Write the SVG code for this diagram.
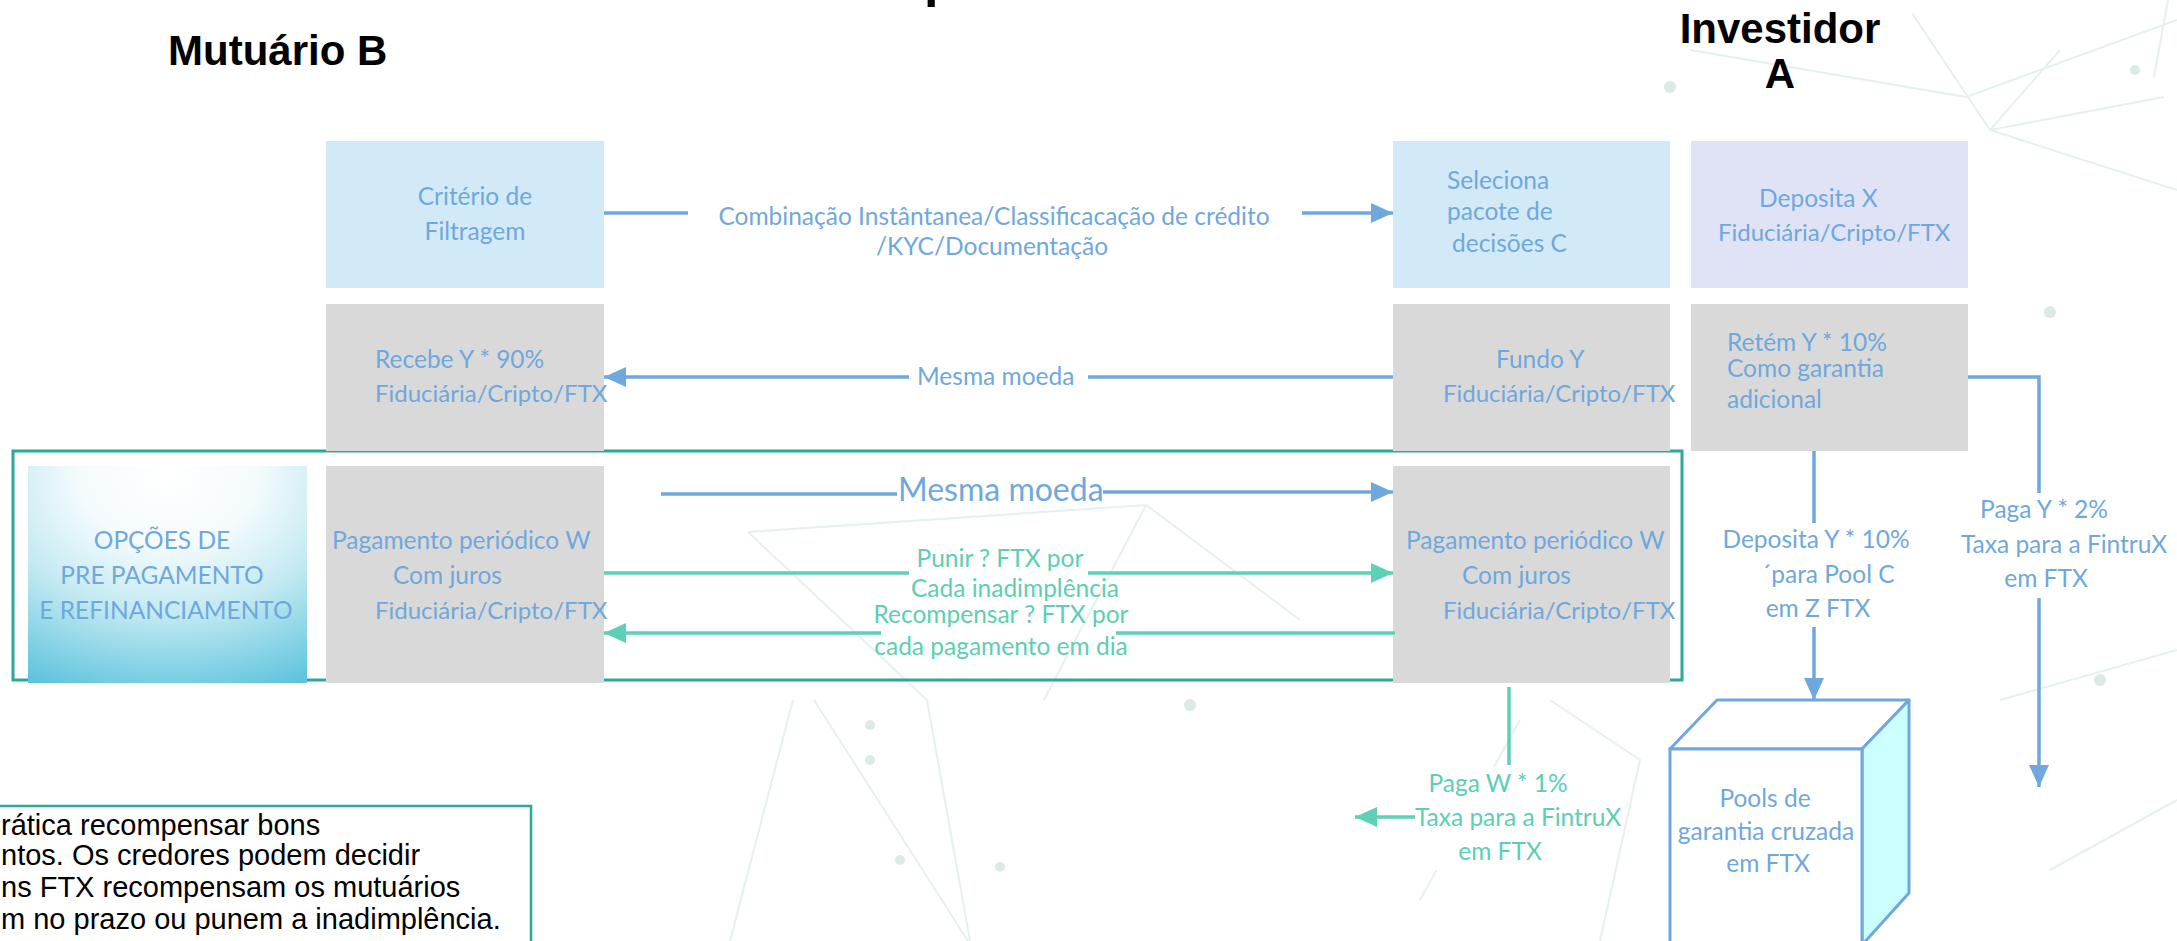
<svg xmlns="http://www.w3.org/2000/svg" width="2177" height="941" viewBox="0 0 2177 941">
<defs>
<style>
.t{font-family:Lato,"Open Sans","Liberation Sans",sans-serif;font-size:24.5px;fill:#6fa8dc}
.f{font-size:24px}
.g{fill:#5ccfb3}
.m{text-anchor:middle}
.big{font-size:32px}
.title{font-family:"Liberation Sans",Arial,sans-serif;font-weight:bold;font-size:42px;fill:#000}
.note{font-family:"Liberation Sans",Arial,sans-serif;font-size:29px;fill:#000}
.blue{fill:#d2e9f7}
.gray{fill:#d9d9d9}
.lb{stroke:#6fa8dc;stroke-width:3.5;fill:none}
.lg{stroke:#5dd0b5;stroke-width:3.5;fill:none}
.bg{stroke:#e6f0ee;stroke-width:2;fill:none}
.dot{fill:#dde9e7}
</style>
<marker id="ab" markerUnits="userSpaceOnUse" markerWidth="22" markerHeight="20" refX="22" refY="10" orient="auto">
<path d="M0,0 L22,10 L0,20 z" fill="#6fa8dc"/>
</marker>
<marker id="ag" markerUnits="userSpaceOnUse" markerWidth="22" markerHeight="20" refX="22" refY="10" orient="auto">
<path d="M0,0 L22,10 L0,20 z" fill="#5dd0b5"/>
</marker>
<radialGradient id="opg" cx="0.5" cy="0.05" r="1.05" fx="0.5" fy="0.05">
<stop offset="0" stop-color="#ffffff"/>
<stop offset="0.3" stop-color="#f4fbfd"/>
<stop offset="0.6" stop-color="#c3e9f2"/>
<stop offset="1" stop-color="#5ec4dd"/>
</radialGradient>
</defs>
<rect width="2177" height="941" fill="#ffffff"/>
<g id="background">
<path class="bg" d="M1912,13 L1990,130 L2177,190 M1990,130 L2164,97 M2060,50 L1990,130 M2168,0 L2154,77 M1690,50 L1966,97 M1966,97 L2177,20"/>
<path class="bg" d="M748,532 L1146,505 L1044,700 M748,532 L927,700 L970,941 M814,700 L968,941 M793,700 L730,941 M1146,505 L1300,620"/>
<path class="bg" d="M1550,700 L1640,760 L1600,941 M1520,720 L1420,900 M2000,700 L2177,650 M2050,870 L2177,800"/>
<circle class="dot" cx="870" cy="725" r="5"/>
<circle class="dot" cx="870" cy="760" r="5"/>
<circle class="dot" cx="900" cy="860" r="5"/>
<circle class="dot" cx="1000" cy="867" r="5"/>
<circle class="dot" cx="1670" cy="87" r="6"/>
<circle class="dot" cx="2050" cy="312" r="6"/>
<circle class="dot" cx="2135" cy="70" r="5"/>
<circle class="dot" cx="2100" cy="680" r="6"/>
<circle class="dot" cx="1190" cy="705" r="6"/>
</g>
<g id="titles">
<text class="title" x="924" y="-4" style="font-size:52px">p</text>
<text class="title" x="168" y="65">Mutuário B</text>
<text class="title m" x="1780" y="43">Investidor</text>
<text class="title m" x="1780" y="88">A</text>
</g>
<g id="container">
<rect x="13" y="451" width="1669" height="229" fill="none" stroke="#2aa898" stroke-width="3"/>
</g>
<g id="criterio">
<rect class="blue" x="326" y="141" width="278" height="147"/>
<text class="t m" x="475" y="205">Critério de</text>
<text class="t m" x="475" y="240">Filtragem</text>
</g>
<g id="seleciona">
<rect class="blue" x="1393" y="141" width="277" height="147"/>
<text class="t" x="1447" y="189">Seleciona</text>
<text class="t" x="1447" y="220">pacote de</text>
<text class="t" x="1452" y="252">decisões C</text>
</g>
<g id="deposita-x">
<rect x="1691" y="141" width="277" height="147" fill="#dfe3f5"/>
<text class="t" x="1759" y="207">Deposita X</text>
<text class="t f" x="1718" y="241">Fiduciária/Cripto/FTX</text>
</g>
<g id="recebe">
<rect class="gray" x="326" y="304" width="278" height="147"/>
<text class="t" x="375" y="368">Recebe Y * 90%</text>
<text class="t f" x="375" y="402">Fiduciária/Cripto/FTX</text>
</g>
<g id="fundo">
<rect class="gray" x="1393" y="304" width="277" height="147"/>
<text class="t" x="1496" y="368">Fundo Y</text>
<text class="t f" x="1443" y="402">Fiduciária/Cripto/FTX</text>
</g>
<g id="retem">
<rect class="gray" x="1691" y="304" width="277" height="147"/>
<text class="t" x="1727" y="351">Retém Y * 10%</text>
<text class="t" x="1727" y="377">Como garantia</text>
<text class="t" x="1727" y="408">adicional</text>
</g>
<g id="opcoes">
<rect x="28" y="466" width="279" height="217" fill="url(#opg)"/>
<text class="t m" x="162" y="549">OPÇÕES DE</text>
<text class="t m" x="162" y="584">PRE PAGAMENTO</text>
<text class="t m" x="166" y="619">E REFINANCIAMENTO</text>
</g>
<g id="pagamento-b">
<rect class="gray" x="326" y="466" width="278" height="217"/>
<text class="t" x="332" y="549">Pagamento periódico W</text>
<text class="t" x="393" y="584">Com juros</text>
<text class="t f" x="375" y="619">Fiduciária/Cripto/FTX</text>
</g>
<g id="pagamento-a">
<rect class="gray" x="1393" y="466" width="277" height="217"/>
<text class="t" x="1406" y="549">Pagamento periódico W</text>
<text class="t" x="1462" y="584">Com juros</text>
<text class="t f" x="1443" y="619">Fiduciária/Cripto/FTX</text>
</g>
<g id="pools">
<path d="M1670,749 L1717,700 L1909,700 L1862,749 z" fill="#ffffff" stroke="#6fa8dc" stroke-width="3" stroke-linejoin="round"/>
<path d="M1862,749 L1909,700 L1909,893 L1862,945 z" fill="#ccffff" stroke="#6fa8dc" stroke-width="3" stroke-linejoin="round"/>
<rect x="1670" y="749" width="192" height="200" fill="#ffffff" stroke="#6fa8dc" stroke-width="3"/>
<text class="t m" x="1765" y="807">Pools de</text>
<text class="t m" x="1766" y="840">garantia cruzada</text>
<text class="t m" x="1768" y="872">em FTX</text>
</g>
<g id="note">
<rect x="-3" y="806" width="534" height="140" fill="#ffffff" stroke="#2aa898" stroke-width="2.5"/>
<text class="note" x="1" y="835">rática recompensar bons</text>
<text class="note" x="1" y="865">ntos. Os credores podem decidir</text>
<text class="note" x="1" y="897">ns FTX recompensam os mutuários</text>
<text class="note" x="1" y="929">m no prazo ou punem a inadimplência.</text>
</g>
<g id="connectors">
<path class="lb" d="M604,213 H688"/>
<path class="lb" d="M1302,213 H1393" marker-end="url(#ab)"/>
<text class="t m" x="994" y="225">Combinação Instântanea/Classificacação de crédito</text>
<text class="t m" x="992" y="255">/KYC/Documentação</text>
<path class="lb" d="M1393,377 H1088"/>
<path class="lb" d="M909,377 H604" marker-end="url(#ab)"/>
<text class="t" x="917" y="385">Mesma moeda</text>
<path class="lb" d="M661,494 H897"/>
<path class="lb" d="M1103,492 H1393" marker-end="url(#ab)"/>
<text class="t big" x="898" y="501">Mesma moeda</text>
<path class="lg" d="M604,573 H909"/>
<path class="lg" d="M1088,573 H1393" marker-end="url(#ag)"/>
<text class="t g m" x="1000" y="567">Punir ? FTX por</text>
<text class="t g m" x="1015" y="597">Cada inadimplência</text>
<path class="lg" d="M1395,633 H1116"/>
<path class="lg" d="M881,633 H604" marker-end="url(#ag)"/>
<text class="t g m" x="1001" y="623">Recompensar ? FTX por</text>
<text class="t g m" x="1001" y="655">cada pagamento em dia</text>
<path class="lb" d="M1968,377 H2039 V493"/>
<path class="lb" d="M2039,598 V787" marker-end="url(#ab)"/>
<rect x="1955" y="495" width="217" height="102" fill="#ffffff"/>
<text class="t m" x="2044" y="518">Paga Y * 2%</text>
<text class="t m" x="2064" y="553">Taxa para a FintruX</text>
<text class="t m" x="2046" y="587">em FTX</text>
<path class="lb" d="M1814,451 V523"/>
<path class="lb" d="M1814,627 V700" marker-end="url(#ab)"/>
<rect x="1715" y="525" width="200" height="100" fill="#ffffff"/>
<text class="t m" x="1816" y="548">Deposita Y * 10%</text>
<text class="t m" x="1828" y="583">´para Pool C</text>
<text class="t m" x="1818" y="617">em Z FTX</text>
<path class="lg" d="M1509,687 V765" stroke-width="3"/>
<rect x="1414" y="767" width="160" height="103" fill="#ffffff"/>
<path class="lg" d="M1415,817 H1355" marker-end="url(#ag)"/>
<text class="t g m" x="1498" y="792">Paga W * 1%</text>
<text class="t g m" x="1518" y="826">Taxa para a FintruX</text>
<text class="t g m" x="1500" y="860">em FTX</text>
</g>
</svg>
